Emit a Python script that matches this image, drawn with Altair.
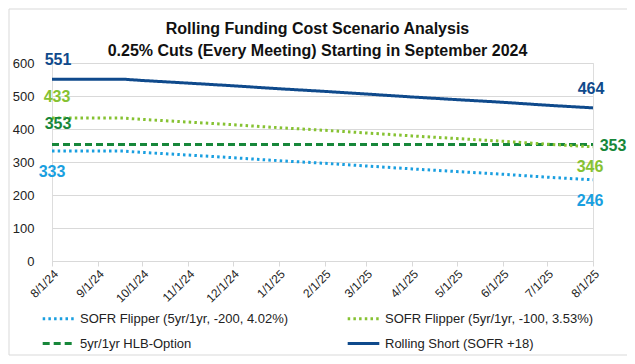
import altair as alt
import pandas as pd

# ---- data ----
dates = ["2024/08/01", "2024/09/01", "2024/09/18", "2024/10/01", "2024/11/01",
         "2024/12/01", "2025/01/01", "2025/02/01", "2025/03/01", "2025/04/01",
         "2025/05/01", "2025/06/01", "2025/07/01", "2025/08/01"]
flipper_200 = [333, 333, 333, 329, 321, 313, 304, 296, 288, 279, 271, 263, 254, 246]
flipper_100 = [433, 433, 433, 429, 421, 413, 404, 396, 388, 379, 371, 363, 354, 346]
hlb_option = [353] * 14
rolling_short = [551, 551, 551, 547, 539, 531, 522, 514, 506, 497, 489, 481, 472, 464]

# legend fills column by column: col 1 = -200 / HLB, col 2 = -100 / Rolling
series_names = ["SOFR Flipper (5yr/1yr, -200, 4.02%)",
                "5yr/1yr HLB-Option",
                "SOFR Flipper (5yr/1yr, -100, 3.53%)",
                "Rolling Short (SOFR +18)"]
series_values = [flipper_200, hlb_option, flipper_100, rolling_short]
colors = ["#1a9fe0", "#17873a", "#86c232", "#0f4a8c"]
dashes = [[2.5, 3.2], [7, 4], [2.5, 3.2], [1, 0]]

tick_dates = ["2024/08/01", "2024/09/01", "2024/10/01", "2024/11/01", "2024/12/01",
              "2025/01/01", "2025/02/01", "2025/03/01", "2025/04/01", "2025/05/01",
              "2025/06/01", "2025/07/01", "2025/08/01"]
y_ticks = [0, 100, 200, 300, 400, 500, 600]
title_lines = ["Rolling Funding Cost Scenario Analysis",
               "0.25% Cuts (Every Meeting) Starting in September 2024"]

rows = []
for name, vals in zip(series_names, series_values):
    for d, v in zip(dates, vals):
        rows.append({"date": d, "value": v, "series": name})
df = pd.DataFrame(rows)

FONT = "Liberation Sans, Arial"

tick_vals = [alt.DateTime(year=int(d[:4]), month=int(d[5:7]), date=int(d[8:])) for d in tick_dates]

x_enc = alt.X("date:T", title=None,
              scale=alt.Scale(domain=[tick_vals[0], tick_vals[-1]]),
              axis=alt.Axis(values=tick_vals, format="%-m/%-d/%y", labelAngle=-45,
                            grid=False, domainColor="#d9d9d9", tickColor="#d9d9d9",
                            tickSize=5, labelFontSize=12, labelFont=FONT,
                            labelColor="#222222", labelPadding=2))
y_enc = alt.Y("value:Q", title=None,
              scale=alt.Scale(domain=[0, 600]),
              axis=alt.Axis(values=y_ticks, domain=False,
                            ticks=False, gridColor="#d9d9d9", labelFontSize=13,
                            labelFont=FONT, labelColor="#222222", labelPadding=18))

legend_opts = dict(orient="none", legendX=-11, legendY=238,
                   columns=2, columnPadding=52, rowPadding=0,
                   symbolType="stroke", symbolSize=1000,
                   symbolStrokeWidth=3, labelFontSize=13,
                   labelFont=FONT, labelColor="#222222",
                   labelLimit=400, title=None)

lines = alt.Chart(df).mark_line(strokeWidth=3).encode(
    x=x_enc,
    y=y_enc,
    color=alt.Color("series:N",
                    scale=alt.Scale(domain=series_names, range=colors),
                    legend=alt.Legend(**legend_opts)),
    strokeDash=alt.StrokeDash("series:N",
                              scale=alt.Scale(domain=series_names, range=dashes),
                              legend=alt.Legend(**legend_opts)),
    order="date:T",
)

# value labels at the start and end of each series
start_df = df[df["date"] == dates[0]]
end_df = df[df["date"] == dates[-1]]

label_specs = [
    (start_df, "Rolling Short (SOFR +18)", 6, -19),
    (start_df, "SOFR Flipper (5yr/1yr, -100, 3.53%)", 5, -21),
    (start_df, "5yr/1yr HLB-Option", 6, -21),
    (start_df, "SOFR Flipper (5yr/1yr, -200, 4.02%)", 0, 21),
    (end_df, "Rolling Short (SOFR +18)", -2, -19),
    (end_df, "5yr/1yr HLB-Option", 20, 1),
    (end_df, "SOFR Flipper (5yr/1yr, -100, 3.53%)", -3, 20),
    (end_df, "SOFR Flipper (5yr/1yr, -200, 4.02%)", -3, 21),
]
label_layers = []
for src, name, dx, dy in label_specs:
    color = colors[series_names.index(name)]
    label_layers.append(
        alt.Chart(src[src["series"] == name]).mark_text(
            font=FONT, fontSize=16, fontWeight="bold", color=color,
            dx=dx, dy=dy, align="center", baseline="middle"
        ).encode(x=x_enc, y=y_enc, text="value:Q")
    )

border = alt.Chart(pd.DataFrame({"a": [0]})).mark_rect(
    fillOpacity=0, stroke="#d9d9d9", strokeWidth=1
).encode(x=alt.value(-43), x2=alt.value(578), y=alt.value(-54), y2=alt.value(292))

chart = alt.layer(border, lines, *label_layers).properties(
    width=541, height=198,
    padding={"left": 44, "top": 55, "right": 34, "bottom": 95},
    autosize=alt.AutoSizeParams(type="none"),
    title=alt.TitleParams(text=title_lines, fontSize=16, fontWeight="bold",
                          font=FONT, color="#111111", anchor="middle",
                          frame="group", offset=-50, lineHeight=22, dx=-5),
).configure_view(stroke=None).configure(background="white")

chart.save("out.html", embed_options={"renderer": "svg", "actions": False})
